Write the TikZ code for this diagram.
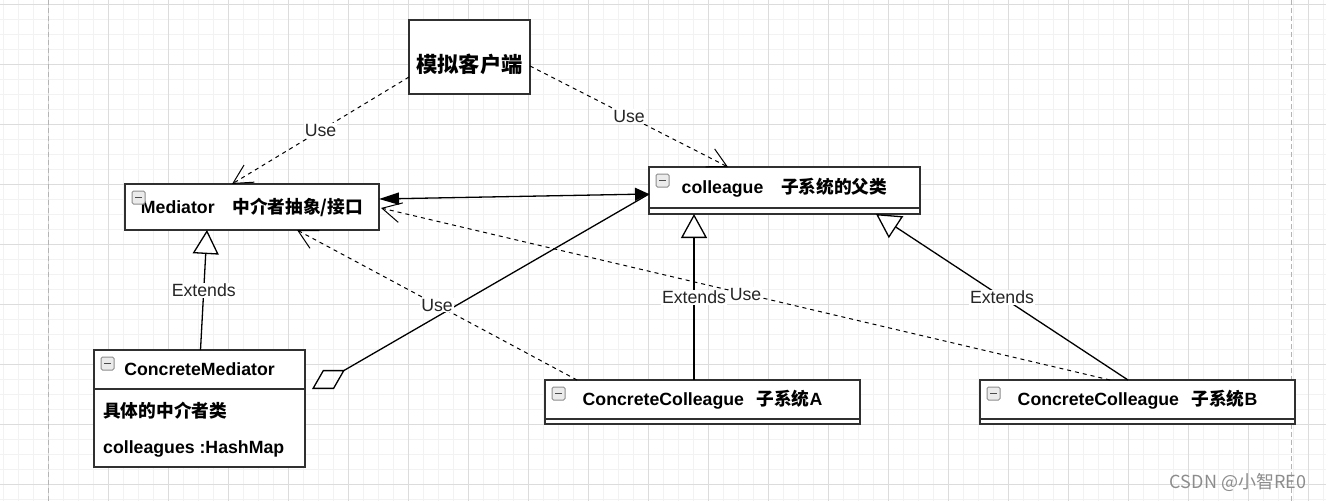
\documentclass[tikz,border=0pt]{standalone}
\usepackage{fontspec}
\setmainfont{Liberation Sans}
\newfontfamily\cjk{Noto Sans CJK SC}
\usetikzlibrary{arrows.meta,calc}
\definecolor{gridminor}{HTML}{F2F2F2}
\definecolor{gridmajor}{HTML}{DCDCDC}
\definecolor{pageedge}{HTML}{B4B4B4}
\definecolor{boxline}{HTML}{303030}

\begin{document}
\begin{tikzpicture}[
        %We set the units (one unit is one pixel) and define some styles
        x=1pt, y=-1pt,
        grid minor/.style={gridminor, line width=1pt},
        grid major/.style={gridmajor, line width=1pt},
        page line/.style={pageedge, line width=1pt, dash pattern=on 5pt off 3pt},
        umlbox/.style={draw=boxline, line width=1.5pt, fill=white, inner sep=0pt,
            outer sep=0pt, font=\fontsize{17.7}{21}\selectfont\bfseries},
        footbox/.style={draw=boxline, line width=1.5pt, fill=white, inner sep=0pt,
            outer sep=0pt},
        icon/.style={draw=black!45, fill=black!8, line width=1pt, rounded corners=1.5pt},
        icon bar/.style={draw=black!70, line width=1.8pt},
        use/.style={line width=1pt, dash pattern=on 4pt off 4pt,
            -{Straight Barb[length=19pt,width=20pt]}},
        extends/.style={line width=1.3pt, -{Triangle[open,fill=white,length=24pt,width=26pt]}},
        assoc/.style={line width=1.3pt, {Triangle[length=20pt,width=12pt]}-{Triangle[length=14pt,width=13pt]}},
        aggr/.style={line width=1.3pt, {Diamond[open,length=38pt,width=22pt]}-},
        lbl/.style={fill=white, inner sep=1pt, text=black!85, font=\fontsize{17.7}{21}\selectfont},
        attr/.style={anchor=west, inner sep=0pt, font=\fontsize{17.7}{21}\selectfont\bfseries},
        watermark/.style={text=black!45, font=\fontsize{18}{21}\selectfont\cjk},
    ]
    \useasboundingbox (0,0) rectangle (1326,501);
    \fill[white] (0,0) rectangle (1326,501);
    % background grid
    \foreach \gx in {3,18,...,1326} \draw[grid minor] (\gx,0) -- (\gx,501);
    \foreach \gy in {4,19,...,501} \draw[grid minor] (0,\gy) -- (1326,\gy);
    \foreach \gx in {48,108,...,1326} \draw[grid major] (\gx,0) -- (\gx,501);
    \foreach \gy in {4,64,...,501} \draw[grid major] (0,\gy) -- (1326,\gy);
    \draw[page line] (48,0) -- (48,501);
    \draw[page line] (1291,0) -- (1291,501);

    % the classes
    \node[umlbox, minimum width=121pt, minimum height=74pt, font=\fontsize{21.3}{25}\selectfont\bfseries\cjk]
        (client) at (469.5,57) {\raisebox{-15pt}[0pt][0pt]{模拟客户端}};
    \node[umlbox, minimum width=254pt, minimum height=46pt] (mediator) at (252,207)
        {\raisebox{-2pt}{Mediator\hspace{1em}{\cjk 中介者抽象/接口}}};
    \node[umlbox, minimum width=271pt, minimum height=41pt] (colleague) at (784.5,187.5)
        {colleague\hspace{1em}{\cjk 子系统的父类}};
    \node[footbox, minimum width=271pt, minimum height=6pt, anchor=north] (colleaguefoot) at (colleague.south) {};
    \node[umlbox, minimum width=211pt, minimum height=39pt] (cmed) at (199.5,369.5) {ConcreteMediator};
    \node[footbox, minimum width=211pt, minimum height=78pt, anchor=north] (cmedattr) at (cmed.south) {};
    \node[attr] (cmedname) at ($(cmedattr.north west)+(9,22)$) {\cjk 具体的中介者类};
    \node[attr] (cmedmap) at ($(cmedattr.north west)+(9,60)$) {colleagues :HashMap};
    \node[umlbox, minimum width=315pt, minimum height=39pt] (ccA) at (702.5,399.5)
        {ConcreteColleague\hspace{0.7em}{\cjk 子系统}A};
    \node[footbox, minimum width=315pt, minimum height=5pt, anchor=north] (ccAfoot) at (ccA.south) {};
    \node[umlbox, minimum width=315pt, minimum height=39pt] (ccB) at (1137.5,399.5)
        {ConcreteColleague\hspace{0.7em}{\cjk 子系统}B};
    \node[footbox, minimum width=315pt, minimum height=5pt, anchor=north] (ccBfoot) at (ccB.south) {};
    \foreach \n in {mediator,colleague,cmed,ccA,ccB} {
        \draw[icon] ($(\n.north west)+(7,7)$) rectangle ++(13,13);
        \draw[icon bar] ($(\n.north west)+(10,13.5)$) -- ++(7,0);
    }

    % the links
    \coordinate (aggtail) at (312,389);
    \draw[aggr] (aggtail) -- ($(colleague.west)+(0,6.5)$);
    \draw[assoc] ($(mediator.east)+(0,-8)$) -- ($(colleague.west)+(0,6.5)$);
    \draw[use] ($(client.west)+(0,20)$) -- node[lbl] {Use} ($(mediator.north)+(-20,0)$);
    \draw[use] ($(client.east)+(0,9)$) -- node[lbl] {Use} ($(colleague.north)+(-56.5,0)$);
    \draw[extends] ($(cmed.north)+(1,0)$) -- node[lbl] {Extends} ($(mediator.south)+(-45,0)$);
    \draw[use] ($(ccB.north)+(-27.5,0)$) -- node[lbl] {Use} ($(mediator.east)+(2,1)$);
    \draw[extends] ($(ccA.north)+(-8.5,0)$) -- node[lbl] {Extends} ($(colleaguefoot.south)+(-90.5,0)$);
    \draw[use] ($(ccA.north)+(-125.5,0)$) -- node[lbl] {Use} ($(mediator.south)+(45,0)$);
    \draw[extends] ($(ccB.north)+(-9.5,0)$) -- node[lbl] {Extends} ($(colleaguefoot.south)+(91.5,0)$);

    % the mark in the corner
    \node[watermark] (mark) at (1238,482) {CSDN @小智RE0};
\end{tikzpicture}
\end{document}
